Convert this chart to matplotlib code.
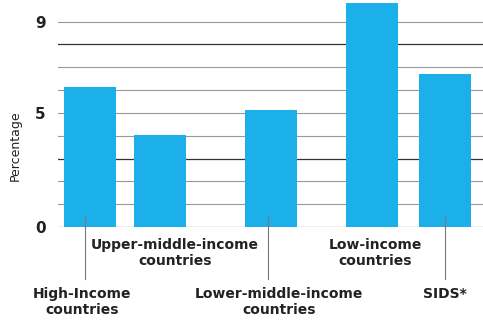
import matplotlib.pyplot as plt

# data
categories = ["High-Income\ncountries", "Upper-middle-income\ncountries",
              "Lower-middle-income\ncountries", "Low-income\ncountries", "SIDS*"]
values = [6.15, 4.05, 5.15, 9.8, 6.7]
ytick_values = [0, 5, 9]
ytick_labels = ["0", "5", "9"]

# layout (bar centres are unevenly spaced in the original)
positions = [32, 102, 213, 314, 387]
label_x = [24, 117, 221, 317, 387]
label_low = [True, False, True, False, True]
leader_x = [27, None, 210, None, 387]

plt.rcParams['font.family'] = ['DejaVu Sans']
text_col = "#222222"

fig = plt.figure(figsize=(4.83, 3.22), dpi=100)
ax = fig.add_axes([58 / 483, 95 / 322, 425 / 483, 227 / 322])

# grid lines behind the bars
for g in range(1, 10):
    dark = g in (3, 8)
    ax.axhline(g, color="#333333" if dark else "#999999",
               lw=0.9 if dark else 0.8, zorder=0)
ax.axhline(0, color="#888888", lw=0.9, zorder=0)

ax.bar(positions, values, width=52, color="#1cb0ea", zorder=2)

ax.set_xlim(0, 425)
ax.set_ylim(0, 9.95)
ax.set_xticks([])
ax.set_yticks(ytick_values)
ax.set_yticklabels(ytick_labels, fontsize=11, fontweight="bold", color=text_col)
ax.tick_params(axis="y", length=0, pad=9)
for s in ax.spines.values():
    s.set_visible(False)
ax.set_ylabel("Percentage", fontsize=9, color=text_col)
ax.yaxis.set_label_coords(-0.085, 0.36)

# category labels, alternating rows with leader lines
for i, lab in enumerate(categories):
    y = -2.65 if label_low[i] else -0.5
    ax.text(label_x[i], y, lab, ha="center", va="top", fontsize=10,
            fontweight="bold", color=text_col, linespacing=1.15, clip_on=False)
    if leader_x[i] is not None:
        ax.plot([leader_x[i], leader_x[i]], [0.45, -2.3], color="#777777",
                lw=0.8, clip_on=False, zorder=3)

fig.savefig("out.png", dpi=100)
